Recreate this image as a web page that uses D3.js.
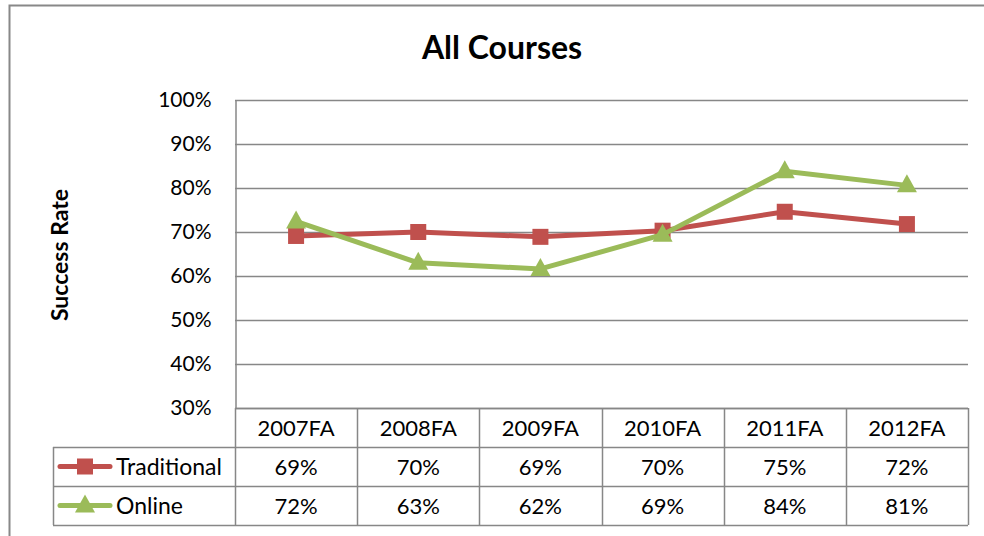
<!DOCTYPE html>
<html>
<head>
<meta charset="utf-8">
<script src="https://cdn.jsdelivr.net/npm/d3@7"></script>
<style>
  body { margin: 0; background: #fff; }
  text { font-family: Lato, "Open Sans", sans-serif; fill: #000; }
</style>
</head>
<body>
<div id="chart"></div>
<script>
var categories = ['2007FA', '2008FA', '2009FA', '2010FA', '2011FA', '2012FA'];
var traditional = [69.1, 70.0, 68.9, 70.3, 74.6, 71.8];
var online = [72.4, 63.0, 61.6, 69.4, 83.8, 80.6];
var tradLabels = ['69%', '70%', '69%', '70%', '75%', '72%'];
var onlineLabels = ['72%', '63%', '62%', '69%', '84%', '81%'];
var yTicks = [30, 40, 50, 60, 70, 80, 90, 100];

var series = [
    { name: 'Traditional', values: traditional, labels: tradLabels, color: '#C0504D', marker: 'square' },
    { name: 'Online', values: online, labels: onlineLabels, color: '#9BBB59', marker: 'triangle' }
];

var W = 984, H = 536;
var plot = { left: 235, right: 968, top: 100, bottom: 408 };
var rowH = 39;
var legendLeft = 53;
var gridColor = '#878787';
var cellFont = '22px';

var svg = d3.select('#chart').append('svg')
    .attr('width', W)
    .attr('height', H);

// outer chart frame
svg.append('rect')
    .attr('x', 9.5).attr('y', 5.5)
    .attr('width', W).attr('height', H)
    .attr('fill', 'none')
    .attr('stroke', '#888')
    .attr('stroke-width', 2);

var x = d3.scaleBand()
    .domain(categories)
    .range([plot.left, plot.right]);

var y = d3.scaleLinear()
    .domain([30, 100])
    .range([plot.bottom, plot.top]);

svg.append('text')
    .attr('x', 502).attr('y', 59)
    .attr('text-anchor', 'middle')
    .style('font-size', '32px')
    .style('font-weight', 'bold')
    .text('All Courses');

svg.append('text')
    .attr('transform', `translate(68, ${(plot.top + plot.bottom) / 2 + 1}) rotate(-90)`)
    .attr('text-anchor', 'middle')
    .style('font-size', '23px')
    .style('font-weight', 'bold')
    .text('Success Rate');

// gridlines
svg.append('g').selectAll('line')
    .data(yTicks)
    .enter().append('line')
    .attr('x1', plot.left).attr('x2', plot.right)
    .attr('y1', d => Math.round(y(d)) + 0.5)
    .attr('y2', d => Math.round(y(d)) + 0.5)
    .attr('stroke', gridColor)
    .attr('stroke-width', 1.5);

// y axis
var yAxis = svg.append('g')
    .attr('transform', `translate(${plot.left + 0.5}, 0)`)
    .call(d3.axisLeft(y).tickValues(yTicks).tickSize(0).tickPadding(24).tickFormat(d => d + '%'));
yAxis.select('.domain').attr('stroke', gridColor).attr('stroke-width', 1.5);
yAxis.selectAll('text').style('font-size', '21px').style('font-family', 'Lato, "Open Sans", sans-serif');

// data table
var table = svg.append('g');
var tableTop = plot.bottom;
var rowsY = [tableTop, tableTop + rowH, tableTop + 2 * rowH, tableTop + 3 * rowH];

// horizontal lines
table.append('line')
    .attr('x1', plot.left).attr('x2', plot.right)
    .attr('y1', rowsY[0] + 0.5).attr('y2', rowsY[0] + 0.5);
[1, 2, 3].forEach(function(i) {
    table.append('line')
        .attr('x1', legendLeft).attr('x2', plot.right)
        .attr('y1', rowsY[i] + 0.5).attr('y2', rowsY[i] + 0.5);
});
// vertical lines
categories.forEach(function(c) {
    table.append('line')
        .attr('x1', Math.round(x(c)) + 0.5).attr('x2', Math.round(x(c)) + 0.5)
        .attr('y1', rowsY[0]).attr('y2', rowsY[3]);
});
table.append('line')
    .attr('x1', plot.right + 0.5).attr('x2', plot.right + 0.5)
    .attr('y1', rowsY[0]).attr('y2', rowsY[3]);
table.append('line')
    .attr('x1', legendLeft + 0.5).attr('x2', legendLeft + 0.5)
    .attr('y1', rowsY[1]).attr('y2', rowsY[3]);
table.selectAll('line').attr('stroke', gridColor).attr('stroke-width', 1.5);

// header
table.selectAll('text.cat')
    .data(categories)
    .enter().append('text')
    .attr('class', 'cat')
    .attr('x', d => x(d) + x.bandwidth() / 2)
    .attr('y', rowsY[0] + 28)
    .attr('text-anchor', 'middle')
    .style('font-size', cellFont)
    .text(d => d);

series.forEach(function(s, i) {
    var ry = rowsY[i + 1];
    table.selectAll('text.v' + i)
        .data(s.labels)
        .enter().append('text')
        .attr('x', (d, j) => x(categories[j]) + x.bandwidth() / 2)
        .attr('y', ry + 28)
        .attr('text-anchor', 'middle')
        .style('font-size', cellFont)
        .text(d => d);

    // legend key
    var ly = ry + rowH / 2;
    table.append('line')
        .attr('x1', 60).attr('x2', 110)
        .attr('y1', ly).attr('y2', ly)
        .attr('stroke', s.color)
        .attr('stroke-width', 5)
        .attr('stroke-linecap', 'round');
    drawMarker(table, s.marker, 85, ly, s.color);
    table.append('text')
        .attr('x', 116).attr('y', ry + 28)
        .style('font-size', '23px')
        .text(s.name);
});

function drawMarker(g, type, cx, cy, color) {
    if (type === 'square') {
        g.append('rect')
            .attr('x', cx - 8).attr('y', cy - 8)
            .attr('width', 16).attr('height', 16)
            .attr('fill', color);
    } else {
        g.append('path')
            .attr('d', `M${cx},${cy - 11}L${cx + 10},${cy + 7}L${cx - 10},${cy + 7}Z`)
            .attr('fill', color);
    }
}

// lines
var line = d3.line()
    .x((d, i) => x(categories[i]) + x.bandwidth() / 2)
    .y(d => y(d));

series.forEach(function(s) {
    svg.append('path')
        .datum(s.values)
        .attr('d', line)
        .attr('fill', 'none')
        .attr('stroke', s.color)
        .attr('stroke-width', 5)
        .attr('stroke-linejoin', 'round');
    var mg = svg.append('g');
    s.values.forEach(function(v, i) {
        drawMarker(mg, s.marker, x(categories[i]) + x.bandwidth() / 2, y(v), s.color);
    });
});
</script>
</body>
</html>
